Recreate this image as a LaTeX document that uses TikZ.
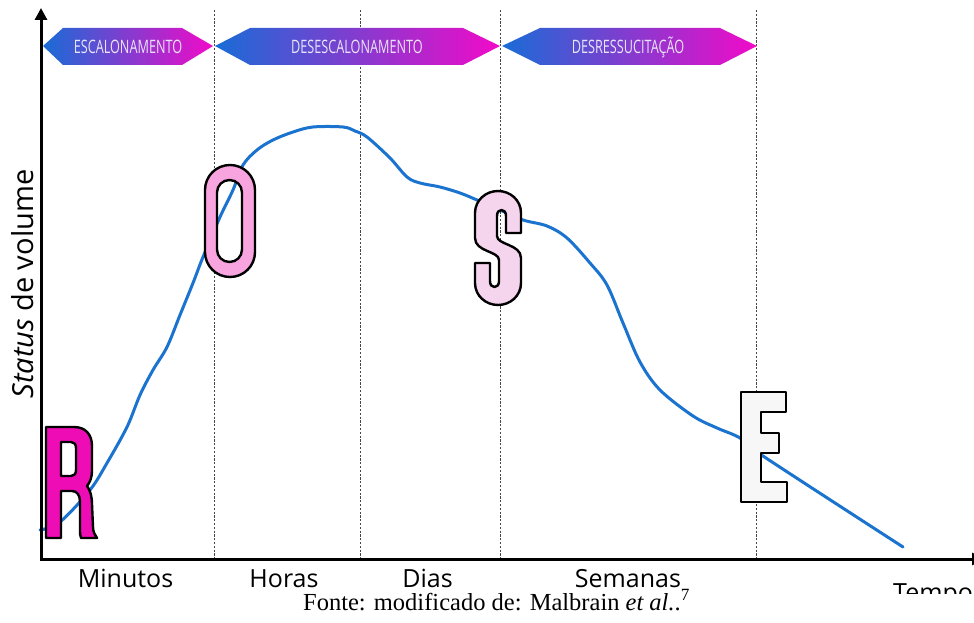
\documentclass[tikz,border=0pt]{standalone}
\usepackage{fontspec}
\setmainfont{Open Sans}
\newfontfamily\capfont{Liberation Serif}
\usetikzlibrary{arrows.meta}
\definecolor{curveblue}{RGB}{26,116,207}
\definecolor{bblue}{RGB}{24,108,214}
\definecolor{bmag}{RGB}{242,10,200}
\definecolor{btext}{RGB}{232,228,245}
\definecolor{rfill}{RGB}{238,12,180}
\definecolor{ofill}{RGB}{247,164,223}
\definecolor{sfill}{RGB}{245,212,238}
\definecolor{efill}{RGB}{247,247,247}
\definecolor{dashgray}{RGB}{70,70,70}
\begin{document}
\begin{tikzpicture}[x=1pt,y=-1pt,
  axisline/.style={line width=3pt, black},
  phaseline/.style={dashgray, line width=0.9pt, dash pattern=on 2.2pt off 1.6pt},
  banner/.style={left color=bblue, right color=bmag},
  bannertext/.style={text=btext, font=\fontsize{18.5}{20}\selectfont, inner sep=0pt},
  timelab/.style={font=\fontsize{25}{28}\selectfont, anchor=base, inner sep=0pt},
  letterbox/.style={draw=black, line width=2.4pt, line join=round, even odd rule},
  volcurve/.style={curveblue, line width=3pt, line cap=round}]
\useasboundingbox (0,0) rectangle (974,623);
\fill[white] (0,0) rectangle (974,623);
% phase separators
\foreach \xx/\nm in {214/a,360/b,500/c,756/d}{
  \coordinate (top\nm) at (\xx,10);
  \coordinate (bot\nm) at (\xx,558);
  \draw[phaseline] (top\nm) -- (bot\nm);
}
% banners
\shade[banner] (43,46) -- (63,28) -- (182,28) -- (213,46) -- (182,65) -- (63,65) -- cycle;
\shade[banner] (215,46) -- (250,28) -- (463,28) -- (500,46) -- (463,65) -- (250,65) -- cycle;
\shade[banner] (502,46) -- (540,28) -- (720,28) -- (757,46) -- (720,65) -- (540,65) -- cycle;
\node[bannertext] (b1) at (128,47) {\scalebox{0.685}[1]{ESCALONAMENTO}};
\node[bannertext] (b2) at (357,47) {\scalebox{0.685}[1]{DESESCALONAMENTO}};
\node[bannertext] (b3) at (628,47) {\scalebox{0.685}[1]{DESRESSUCITAÇÃO}};
% volume curve
\draw[volcurve] plot[smooth, tension=0.55] coordinates {(40,530) (60,522) (90,490) (107,463) (127,427) (140,395) (153,370) (167,347) (180,315) (193,283) (203,257) (220,217) (233,190) (243,165) (257,150) (273,140) (293,132) (313,127) (343,127) (355,131) (367,137) (390,158) (407,177) (420,183) (440,187) (460,193) (477,200) (500,210) (523,220) (547,226) (567,238) (590,263) (607,285) (623,323) (640,362) (660,390) (693,416) (717,428) (740,438) (763,456) (903,547)};
% letter R
\path[letterbox, fill=rfill] (46,427) -- (74,427) .. controls (85,427) and (92,434) .. (92,446) -- (92,470) .. controls (92,478) and (90,482) .. (87,486) .. controls (90,490) and (92,496) .. (92,504) -- (93,527) .. controls (93,532) and (95,535) .. (97,538) -- (81,538) .. controls (80,536) and (80,533) .. (80,528) -- (80,502) .. controls (80,495) and (77,491) .. (72,491) -- (61,491) -- (61,538) -- (46,538) -- cycle
 (61,442) -- (71,442) .. controls (74,442) and (76,444) .. (76,448) -- (76,470) .. controls (76,474) and (74,476) .. (71,476) -- (61,476) -- cycle;
% letter O
\path[letterbox, fill=ofill] [rounded corners=24.9pt] (205,165) rectangle (255,277) [rounded corners=12.4pt] (217,180) rectangle (242,262);
% letter S
\path[letterbox, fill=sfill] (498,191) .. controls (510,191) and (521,200) .. (521,213) -- (521,233) -- (506,233) -- (506,216) .. controls (506,212) and (504,210) .. (501.5,210) .. controls (499,210) and (497,212) .. (497,216) -- (497,236) .. controls (497,245) and (521,244) .. (521,258) -- (521,283) .. controls (521,296) and (510,305) .. (498,305) .. controls (486,305) and (475,296) .. (475,283) -- (475,263) -- (490,263) -- (490,281) .. controls (490,285) and (492,287) .. (494.5,287) .. controls (497,287) and (499,285) .. (499,281) -- (499,260) .. controls (499,251) and (475,252) .. (475,238) -- (475,213) .. controls (475,200) and (486,191) .. (498,191) -- cycle;
% letter E
\path[letterbox, fill=efill] (741,392) -- (786,392) -- (786,412) -- (761,412) -- (761,433) -- (779,433) -- (779,453) -- (761,453) -- (761,482) -- (787,482) -- (787,502) -- (741,502) -- cycle;
% axes
\coordinate (origin) at (41,559);
\coordinate (ytop) at (41,8);
\coordinate (xend) at (984,559);
\draw[axisline, -{Triangle[length=12pt,width=12pt]}] (41,560.5) -- (ytop);
\draw[axisline, -{Triangle[length=12pt,width=12pt]}] (origin) -- (xend);
% labels
\node[timelab] (minutos) at (125.5,587) {Minutos};
\node[timelab] (horas) at (284,587) {Horas};
\node[timelab] (dias) at (427.5,587) {Dias};
\node[timelab] (semanas) at (628,587) {Semanas};
\begin{scope}
\clip (880,565) rectangle (974,593);
\node[timelab, anchor=base west] (tempo) at (893,601) {Tempo};
\end{scope}
\node[font=\fontsize{29}{32}\selectfont, rotate=90, anchor=base, inner sep=0pt] (ylab) at (33,284) {\textit{Status} de volume};
\node[font=\capfont\fontsize{24.5}{28}\selectfont, anchor=base, inner sep=0pt] (fonte) at (496.5,610) {Fonte: modificado de: Malbrain \textit{et al.}.\textsuperscript{7}};
\end{tikzpicture}
\end{document}
